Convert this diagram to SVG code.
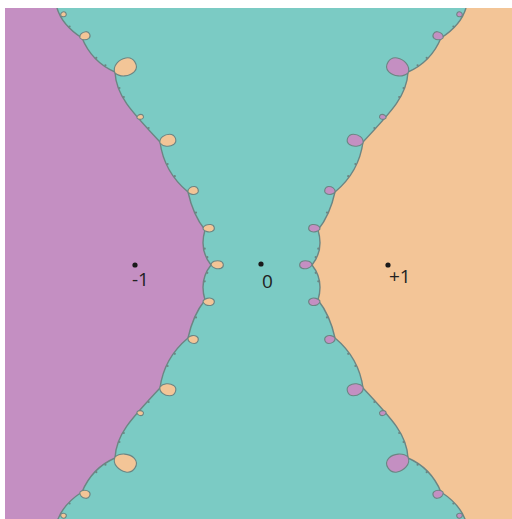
<svg xmlns="http://www.w3.org/2000/svg" width="512" height="519" viewBox="0 0 512 519">
<style>
.edge{fill:none;stroke:#6c8583;stroke-width:1.4}
.pb{fill:#F3C597;stroke:#6c8583;stroke-width:1.1}
.mb{fill:#C48FC2;stroke:#6c8583;stroke-width:1.1}
.purple{fill:#C48FC2}
.peach{fill:#F3C597}
.teal{fill:#7BCBC4}
.dot{fill:#1a1a1a}
.lbl{font-family:"Open Sans","Liberation Sans",sans-serif;font-size:19px;fill:#222}
</style>
<defs>
<clipPath id="plot"><rect x="5" y="8" width="507" height="511"/></clipPath>
<path id="bulb" vector-effect="non-scaling-stroke" d="M0,0 C0.02,-0.45 0.4,-0.6 0.68,-0.5 C1.0,-0.38 1.05,0.25 0.75,0.42 C0.48,0.56 0.1,0.35 0,0 Z"/>
<path id="bnd" d="M57,8 Q62,25 82,38 Q92,62 115,72 C116,95 130,110 160,142 Q164,172 188,192 Q193,215 205,230 Q199,250 211,265 Q199,280 205,300 Q193,315 188,338 Q164,358 160,388 C130,420 116,435 115,458 Q92,468 82,492 Q62,505 57,522"/>
<path id="region" d="M0,0 L57,0 L57,8 Q62,25 82,38 Q92,62 115,72 C116,95 130,110 160,142 Q164,172 188,192 Q193,215 205,230 Q199,250 211,265 Q199,280 205,300 Q193,315 188,338 Q164,358 160,388 C130,420 116,435 115,458 Q92,468 82,492 Q62,505 57,522 L57,530 L0,530 Z"/>
<g id="bulbs">
<use href="#bulb" transform="translate(61,16) rotate(-30) scale(6,5)"/>
<use href="#bulb" transform="translate(80,38) rotate(-20) scale(11,8)"/>
<use href="#bulb" transform="translate(115,73) rotate(-26) scale(24,17.5)"/>
<use href="#bulb" transform="translate(137,118) rotate(-15) scale(7,5)"/>
<use href="#bulb" transform="translate(160,143) rotate(-15) scale(17,12)"/>
<use href="#bulb" transform="translate(188,192) rotate(-12) scale(11,8)"/>
<use href="#bulb" transform="translate(203,229) rotate(-5) scale(12,7.5)"/>
<use href="#bulb" transform="translate(211,265) rotate(0) scale(13,8)"/>
<use href="#bulb" transform="translate(203,301) rotate(5) scale(12,-7.5)"/>
<use href="#bulb" transform="translate(188,338) rotate(12) scale(11,-8)"/>
<use href="#bulb" transform="translate(160,387) rotate(15) scale(17,-12)"/>
<use href="#bulb" transform="translate(137,412) rotate(15) scale(7,-5)"/>
<use href="#bulb" transform="translate(115,457) rotate(26) scale(24,-17.5)"/>
<use href="#bulb" transform="translate(80,492) rotate(20) scale(11,-8)"/>
<use href="#bulb" transform="translate(61,514) rotate(30) scale(6,-5)"/>
</g>
<g id="spikes" fill="#6c8583">
<circle cx="69.6" cy="26.5" r="1.1"/><circle cx="96.3" cy="57.8" r="1.1"/><circle cx="105.4" cy="65.3" r="1.1"/>
<circle cx="119.4" cy="88" r="1.1"/><circle cx="123.8" cy="97" r="1.1"/><circle cx="148.6" cy="128" r="1.1"/>
<circle cx="167.6" cy="164" r="1.1"/><circle cx="174.8" cy="176.2" r="1.1"/><circle cx="196" cy="212.6" r="1.1"/>
<circle cx="204.7" cy="248.7" r="1.1"/><circle cx="207.3" cy="257.2" r="1.1"/>
<circle cx="69.6" cy="503.5" r="1.1"/><circle cx="96.3" cy="472.2" r="1.1"/><circle cx="105.4" cy="464.7" r="1.1"/>
<circle cx="119.4" cy="442" r="1.1"/><circle cx="123.8" cy="433" r="1.1"/><circle cx="148.6" cy="402" r="1.1"/>
<circle cx="167.6" cy="366" r="1.1"/><circle cx="174.8" cy="353.8" r="1.1"/><circle cx="196" cy="317.4" r="1.1"/>
<circle cx="204.7" cy="281.3" r="1.1"/><circle cx="207.3" cy="272.8" r="1.1"/>
</g>
</defs>
<rect width="512" height="519" fill="#ffffff"/>
<g id="fractal" clip-path="url(#plot)">
<rect x="5" y="8" width="507" height="511" class="teal"/>
<g id="basin-minus1">
<use href="#region" class="purple"/>
<use href="#spikes"/>
<use href="#bnd" class="edge"/>
<use href="#bulbs" class="pb"/>
</g>
<g id="basin-plus1" transform="translate(523,0) scale(-1,1)">
<use href="#region" class="peach"/>
<use href="#spikes"/>
<use href="#bnd" class="edge"/>
<use href="#bulbs" class="mb"/>
</g>
</g>
<g id="root-minus1"><circle cx="135" cy="265" r="2.6" class="dot"/><text x="132" y="286" class="lbl">-1</text></g>
<g id="root-0"><circle cx="261" cy="264" r="2.6" class="dot"/><text x="262" y="288" class="lbl">0</text></g>
<g id="root-plus1"><circle cx="388" cy="265" r="2.6" class="dot"/><text x="389" y="283" class="lbl">+1</text></g>
</svg>
